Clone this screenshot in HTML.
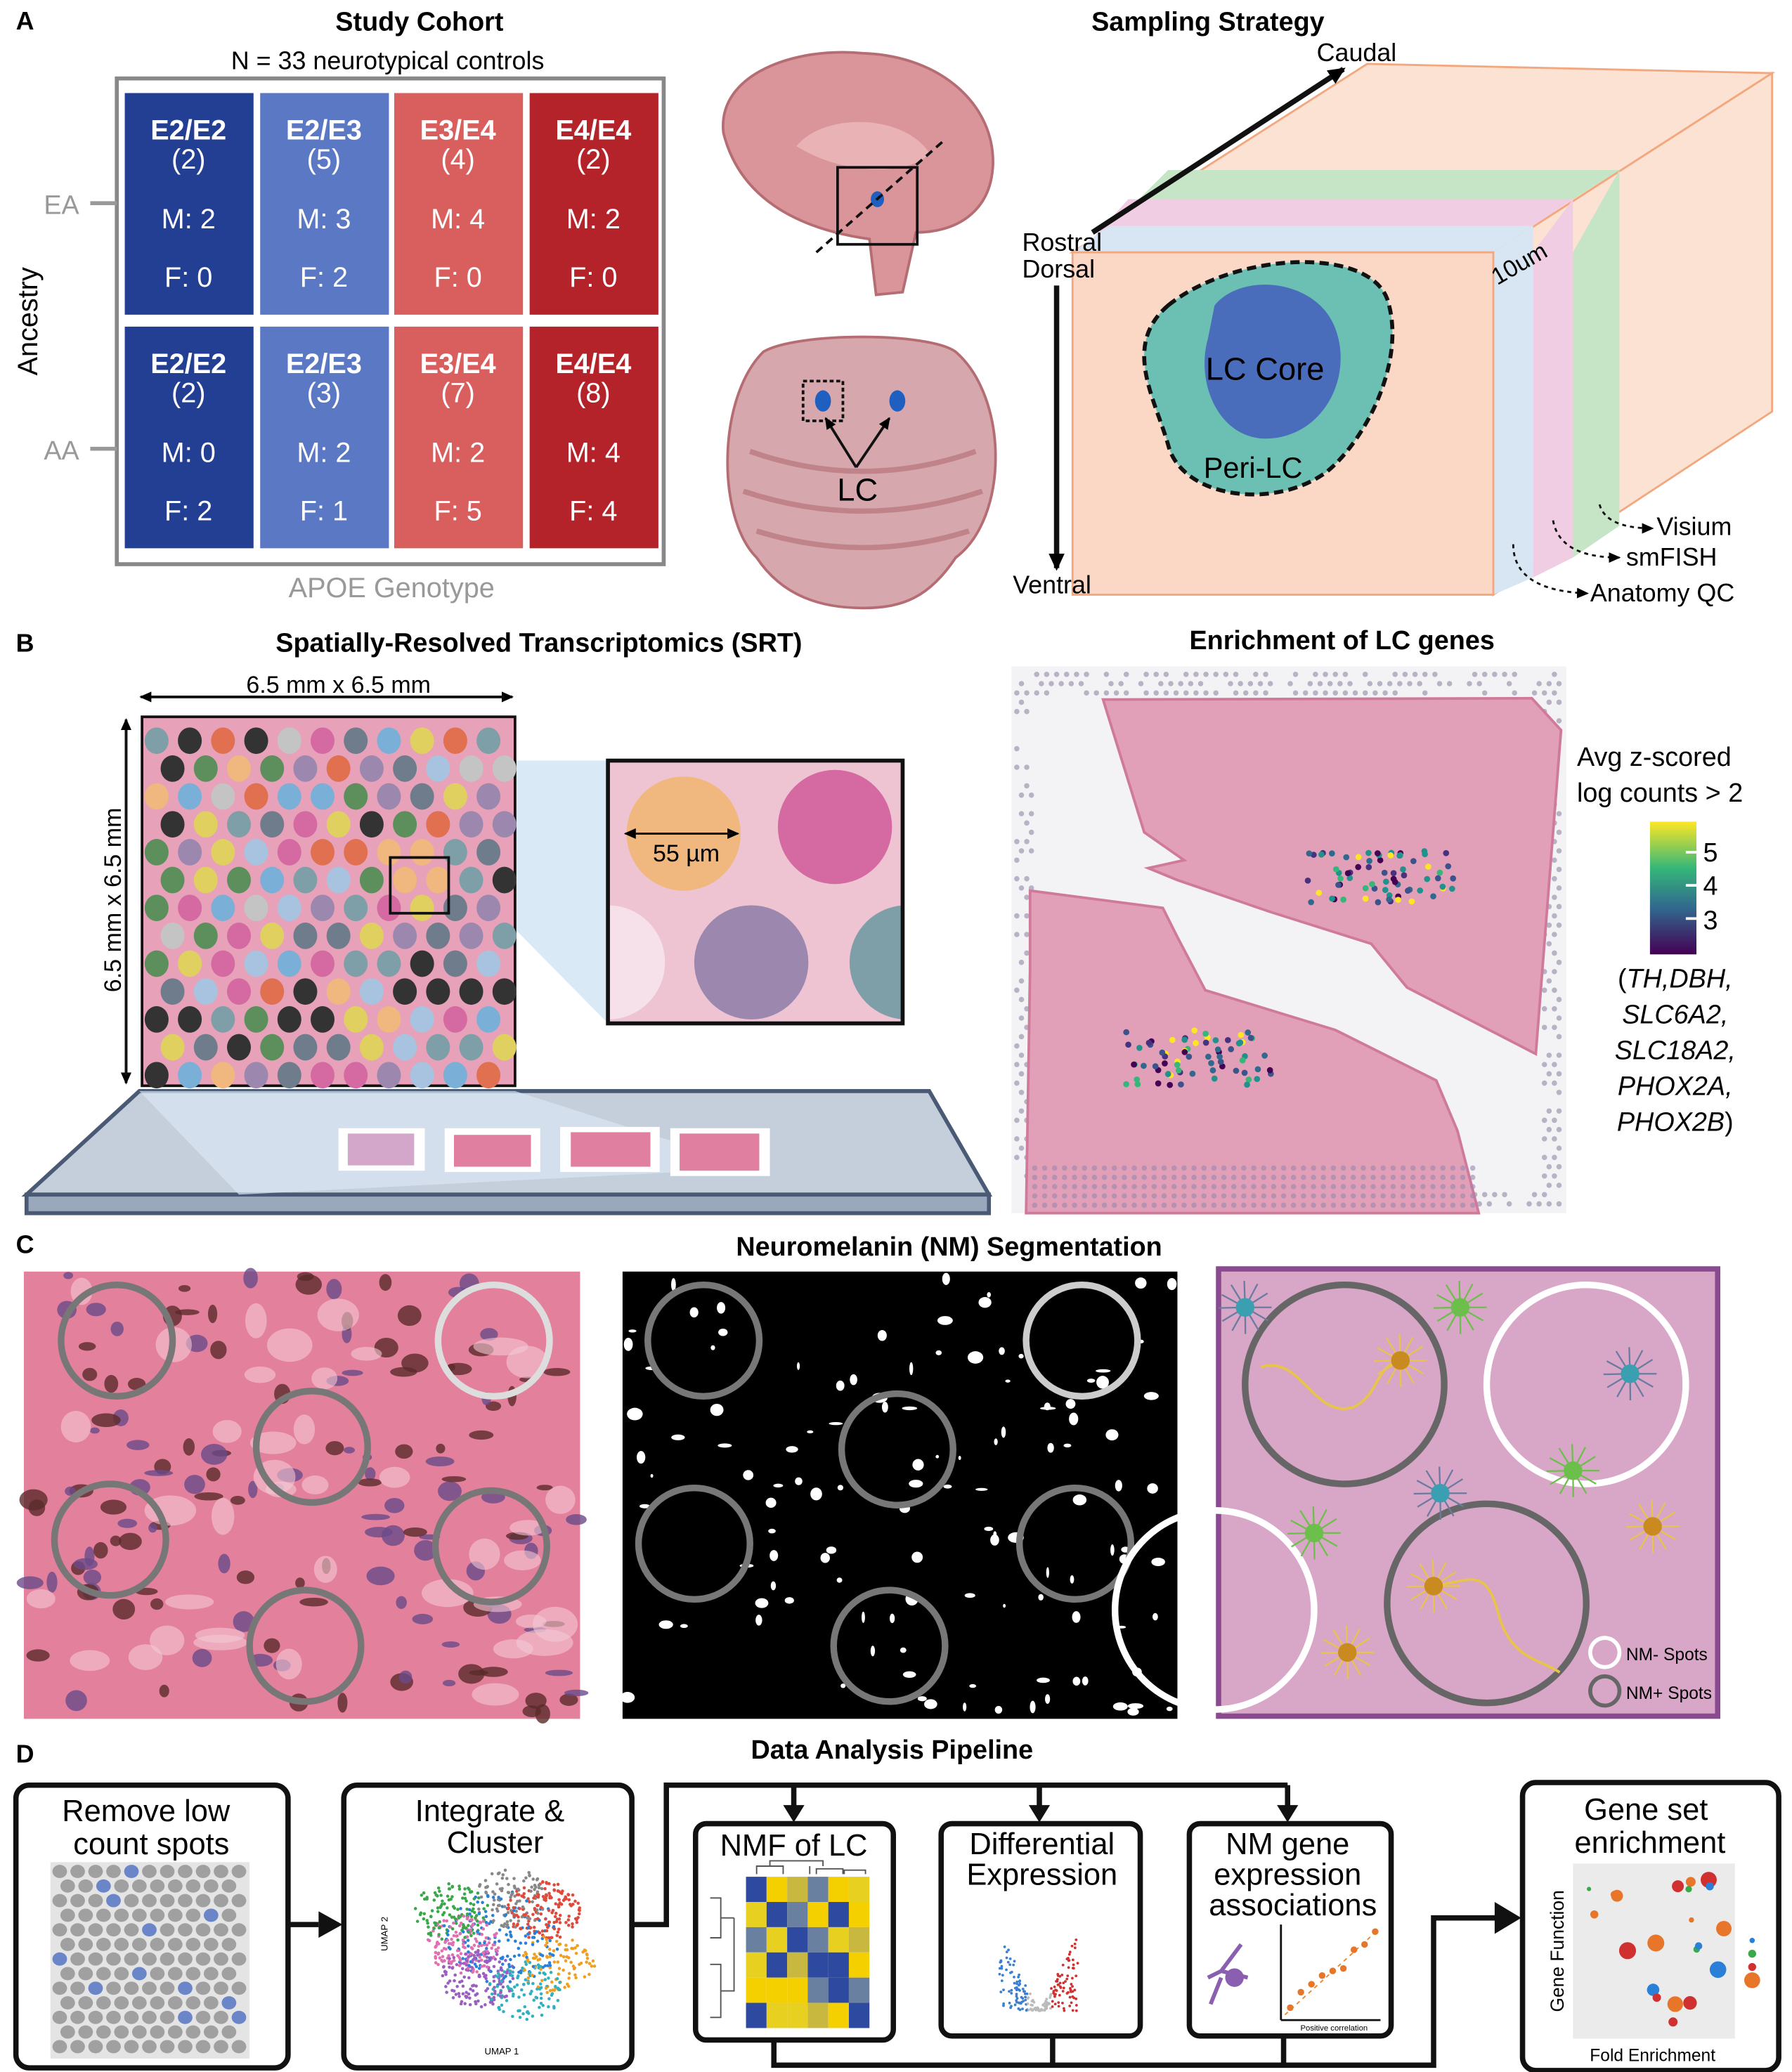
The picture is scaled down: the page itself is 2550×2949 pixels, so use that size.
<!DOCTYPE html>
<html><head><meta charset="utf-8"><style>
html,body{margin:0;padding:0;background:#fff;}
svg{display:block;font-family:"Liberation Sans",Arial,sans-serif;}
</style></head><body>
<svg id="s" width="2550" height="2949" viewBox="0 0 1350 1561" xmlns="http://www.w3.org/2000/svg">
<defs>
<marker id="ah" markerUnits="userSpaceOnUse" markerWidth="14" markerHeight="14" refX="11" refY="7" orient="auto"><path d="M0,1 L13,7 L0,13 z" fill="#000"/></marker>
<marker id="as" markerUnits="userSpaceOnUse" markerWidth="10" markerHeight="10" refX="8" refY="5" orient="auto"><path d="M0,1 L9,5 L0,9 z" fill="#000"/></marker>
</defs>
<!-- Panel A -->
<text x="12" y="22" font-size="19" font-weight="bold">A</text>
<text x="316" y="23" font-size="20" font-weight="bold" text-anchor="middle">Study Cohort</text>
<text x="292" y="52" font-size="19" text-anchor="middle">N = 33 neurotypical controls</text>
<rect x="88" y="59" width="412" height="366" fill="none" stroke="#888" stroke-width="3"/>
<g id="cells"></g>
<text x="295" y="450" font-size="21" fill="#999" text-anchor="middle">APOE Genotype</text>
<text x="28" y="242" font-size="21" transform="rotate(-90 28 242)" text-anchor="middle">Ancestry</text>
<text x="33" y="161" font-size="20" fill="#999">EA</text><line x1="68" y1="153" x2="88" y2="153" stroke="#999" stroke-width="3"/>
<text x="33" y="346" font-size="20" fill="#999">AA</text><line x1="68" y1="338" x2="88" y2="338" stroke="#999" stroke-width="3"/>
<path d="M545,100 C540,55 600,35 650,40 C710,42 750,80 748,125 C746,160 720,175 690,175 L680,220 L660,222 L655,180 C620,175 560,160 545,100 Z" fill="#d9959a" stroke="#b56d73" stroke-width="2"/>
<path d="M600,110 C620,85 680,85 700,115 C690,130 640,135 600,110Z" fill="#e9b3b5"/>
<rect x="631" y="126" width="60" height="58" fill="none" stroke="#111" stroke-width="2"/>
<ellipse cx="661" cy="150" rx="5" ry="6" fill="#1f5fbf"/>
<line x1="615" y1="190" x2="712" y2="105" stroke="#111" stroke-width="2" stroke-dasharray="6,4"/>
<path d="M575,265 C600,250 700,250 720,265 C760,300 760,390 720,420 C700,450 680,458 650,458 C620,458 590,450 570,420 C540,390 540,300 575,265Z" fill="#d6a8ad" stroke="#b56d73" stroke-width="2"/>
<g stroke="#c0838a" stroke-width="4" fill="none"><path d="M565,340 Q650,370 735,340"/><path d="M560,370 Q650,400 740,370"/><path d="M570,400 Q650,425 730,400"/></g>
<rect x="605" y="287" width="30" height="30" fill="none" stroke="#111" stroke-width="2" stroke-dasharray="3,2"/>
<ellipse cx="620" cy="302" rx="6" ry="8" fill="#1f5fbf"/><ellipse cx="676" cy="302" rx="6" ry="8" fill="#1f5fbf"/>
<line x1="645" y1="352" x2="622" y2="315" stroke="#111" stroke-width="2" marker-end="url(#as)"/>
<line x1="645" y1="352" x2="670" y2="315" stroke="#111" stroke-width="2" marker-end="url(#as)"/>
<text x="646" y="377" font-size="24" text-anchor="middle">LC</text>
<text x="910" y="23" font-size="20" font-weight="bold" text-anchor="middle">Sampling Strategy</text>
<polygon points="808,190 1030,48 1335,55 1125,190" fill="#fbe2d3" stroke="#f2a77f" stroke-width="1.5"/>
<polygon points="1125,190 1335,55 1335,310 1125,448" fill="#fbe2d3" stroke="#f2a77f" stroke-width="1.5"/>
<polygon points="1185,190 1220,128 1220,396 1185,420" fill="#c6e4c6"/>
<polygon points="1155,190 1185,150 1185,420 1155,435" fill="#f1cde3"/>
<polygon points="1125,190 1155,170 1155,435 1125,448" fill="#d7e6f2"/>
<polygon points="836,172 1185,150 1220,128 880,128" fill="#c6e4c6"/>
<polygon points="822,181 1155,170 1185,150 850,150" fill="#f1cde3"/>
<polygon points="808,190 1125,190 1155,170 836,170" fill="#d7e6f2"/>
<rect x="808" y="190" width="317" height="258" fill="#fad8c5" stroke="#f2a77f" stroke-width="1.5"/>
<path d="M880,230 C930,190 1030,185 1045,225 C1060,270 1030,330 1000,355 C960,385 890,375 880,335 C870,300 845,260 880,230Z" fill="#6cbfb3" stroke="#111" stroke-width="3" stroke-dasharray="7,4"/>
<path d="M915,230 C935,205 990,210 1005,245 C1020,280 1000,325 960,330 C920,335 900,290 910,255Z" fill="#4a6dbb"/>
<text x="953" y="286" font-size="24" text-anchor="middle">LC Core</text>
<text x="944" y="360" font-size="22" text-anchor="middle">Peri-LC</text>
<line x1="823" y1="175" x2="1012" y2="52" stroke="#111" stroke-width="4" marker-end="url(#ah)"/>
<text x="1022" y="46" font-size="19" text-anchor="middle">Caudal</text>
<text x="770" y="189" font-size="19">Rostral</text><text x="770" y="209" font-size="19">Dorsal</text>
<line x1="796" y1="215" x2="796" y2="428" stroke="#111" stroke-width="4" marker-end="url(#ah)"/>
<text x="763" y="447" font-size="19">Ventral</text>
<text x="1128" y="215" font-size="18" transform="rotate(-30 1128 215)">10um</text>
<g fill="none" stroke="#111" stroke-width="1.5" stroke-dasharray="3,3"><path d="M1205,380 Q1210,398 1245,398" marker-end="url(#as)"/><path d="M1170,392 Q1175,420 1220,420" marker-end="url(#as)"/><path d="M1140,410 Q1140,445 1196,447" marker-end="url(#as)"/></g>
<text x="1248" y="403" font-size="19">Visium</text><text x="1225" y="426" font-size="19">smFISH</text><text x="1198" y="453" font-size="19">Anatomy QC</text>
<!-- Panel B -->
<text x="12" y="491" font-size="19" font-weight="bold">B</text>
<text x="406" y="491" font-size="20" font-weight="bold" text-anchor="middle">Spatially-Resolved Transcriptomics (SRT)</text>
<text x="1011" y="489" font-size="20" font-weight="bold" text-anchor="middle">Enrichment of LC genes</text>
<polygon points="20,900 105,822 700,822 745,900" fill="#c5cfdc" stroke="#4a5a75" stroke-width="3"/>
<rect x="20" y="900" width="725" height="14" fill="#9aa8bc" stroke="#4a5a75" stroke-width="3"/>
<polygon points="105,822 388,822 570,880 180,900" fill="#d9e6f3" opacity="0.7"/>
<polygon points="388,573 458,573 458,771 388,700" fill="#cfe3f4" opacity="0.8"/>
<g><rect x="255" y="850" width="65" height="32" fill="#fff"/><rect x="262" y="854" width="50" height="24" fill="#d3a7c9"/>
<rect x="335" y="850" width="72" height="33" fill="#fff"/><rect x="342" y="855" width="58" height="24" fill="#e07fa0"/>
<rect x="422" y="849" width="75" height="34" fill="#fff"/><rect x="430" y="853" width="60" height="26" fill="#e07fa0"/>
<rect x="505" y="850" width="75" height="36" fill="#fff"/><rect x="512" y="854" width="60" height="28" fill="#e07fa0"/></g>
<rect x="107" y="540" width="281" height="278" fill="#e7a2b9" stroke="#111" stroke-width="2"/>
<g id="spots"></g>
<rect x="294" y="646" width="44" height="42" fill="none" stroke="#111" stroke-width="2"/>
<line x1="112" y1="525" x2="386" y2="525" stroke="#111" stroke-width="2" marker-end="url(#as)"/>
<line x1="380" y1="525" x2="106" y2="525" stroke="#111" stroke-width="2" marker-end="url(#as)"/>
<text x="255" y="522" font-size="18" text-anchor="middle">6.5 mm x 6.5 mm</text>
<line x1="95" y1="550" x2="95" y2="816" stroke="#111" stroke-width="2" marker-end="url(#as)"/>
<line x1="95" y1="810" x2="95" y2="542" stroke="#111" stroke-width="2" marker-end="url(#as)"/>
<text x="91" y="678" font-size="18" text-anchor="middle" transform="rotate(-90 91 678)">6.5 mm x 6.5 mm</text>
<svg x="458" y="573" width="222" height="198"><rect width="222" height="198" fill="#eec4d3"/>
<circle cx="57" cy="55" r="43" fill="#f0b77f"/><circle cx="171" cy="50" r="43" fill="#d56aa3"/><circle cx="108" cy="152" r="43" fill="#9c87ae"/><circle cx="0" cy="152" r="43" fill="#f6e1ea"/><circle cx="225" cy="152" r="43" fill="#7f9fa8"/></svg>
<rect x="458" y="573" width="222" height="198" fill="none" stroke="#111" stroke-width="3"/>
<line x1="476" y1="628" x2="556" y2="628" stroke="#111" stroke-width="1.5" marker-end="url(#as)"/>
<line x1="552" y1="628" x2="471" y2="628" stroke="#111" stroke-width="1.5" marker-end="url(#as)"/>
<text x="517" y="649" font-size="18" text-anchor="middle">55 µm</text>
<rect x="762" y="502" width="418" height="412" fill="#f3f3f5"/>
<g id="gdots"></g>
<path d="M831,527 L1154,526 L1176,550 L1157,794 L1060,744 L1033,711 L957,687 L887,663 L865,654 L892,648 L862,627 Z" fill="#e29fb8" stroke="#cf7a9a" stroke-width="2"/>
<path d="M776,671 L876,684 L887,706 L908,746 L1006,776 L1082,814 L1098,852 L1114,914 L773,914 L776,730 Z" fill="#e29fb8" stroke="#cf7a9a" stroke-width="2"/>
<g id="gdots2" opacity="0.6"></g>
<g id="hot"></g>
<text x="1188" y="577" font-size="20">Avg z-scored</text><text x="1188" y="604" font-size="20">log counts &gt; 2</text>
<defs><linearGradient id="vir" x1="0" y1="1" x2="0" y2="0"><stop offset="0" stop-color="#440154"/><stop offset="0.35" stop-color="#31688e"/><stop offset="0.65" stop-color="#35b779"/><stop offset="1" stop-color="#fde725"/></linearGradient></defs>
<rect x="1243" y="619" width="35" height="100" fill="url(#vir)"/>
<g stroke="#fff" stroke-width="2"><line x1="1270" y1="642" x2="1278" y2="642"/><line x1="1270" y1="667" x2="1278" y2="667"/><line x1="1270" y1="692" x2="1278" y2="692"/></g>
<text x="1283" y="649" font-size="20">5</text><text x="1283" y="674" font-size="20">4</text><text x="1283" y="700" font-size="20">3</text>
<g font-size="20" font-style="italic" text-anchor="middle"><text x="1262" y="744"><tspan font-style="normal">(</tspan>TH,DBH,</text><text x="1262" y="771">SLC6A2,</text><text x="1262" y="798">SLC18A2,</text><text x="1262" y="825">PHOX2A,</text><text x="1262" y="852">PHOX2B<tspan font-style="normal">)</tspan></text></g>
<!-- Panel C -->
<text x="12" y="944" font-size="19" font-weight="bold">C</text>
<text x="715" y="946" font-size="20" font-weight="bold" text-anchor="middle">Neuromelanin (NM) Segmentation</text>
<rect x="18" y="958" width="419" height="337" fill="#e3809c"/>
<g id="he"></g>
<rect x="469" y="958" width="418" height="337" fill="#000"/>
<g id="bw"></g>
<rect x="918" y="956" width="376" height="337" fill="#d8a6c6" stroke="#8a4a8f" stroke-width="4"/>
<g id="circs"></g>
<g fill="none" stroke="#e8c44a" stroke-width="2"><path d="M950,1030 C980,1020 990,1070 1020,1060 C1040,1050 1035,1030 1055,1025"/><path d="M1080,1195 C1110,1190 1120,1180 1130,1220 C1140,1250 1160,1250 1175,1260"/></g>
<g id="cells2"></g>
<circle cx="1209" cy="1245" r="11" fill="none" stroke="#fff" stroke-width="3"/><text x="1225" y="1251" font-size="13">NM- Spots</text>
<circle cx="1209" cy="1274" r="11" fill="none" stroke="#666" stroke-width="3"/><text x="1225" y="1280" font-size="13">NM+ Spots</text>
<!-- Panel D -->
<text x="12" y="1328" font-size="19" font-weight="bold">D</text>
<text x="672" y="1325" font-size="20" font-weight="bold" text-anchor="middle">Data Analysis Pipeline</text>
<g fill="none" stroke="#111" stroke-width="4">
<rect x="12" y="1345" width="205" height="213" rx="10"/>
<rect x="259" y="1345" width="217" height="213" rx="10"/>
<rect x="524" y="1374" width="149" height="163" rx="8"/>
<rect x="709" y="1374" width="150" height="160" rx="8"/>
<rect x="896" y="1374" width="152" height="160" rx="8"/>
<rect x="1147" y="1343" width="193" height="217" rx="10"/>
<polyline points="476,1450 502,1450 502,1345 970,1345"/>
<line x1="598" y1="1345" x2="598" y2="1362"/><line x1="783" y1="1345" x2="783" y2="1362"/><line x1="970" y1="1345" x2="970" y2="1362"/>
<polyline points="583,1537 583,1556 1080,1556 1080,1445 1128,1445"/>
<line x1="793" y1="1534" x2="793" y2="1556"/><line x1="967" y1="1534" x2="967" y2="1556"/>
<line x1="217" y1="1450" x2="240" y2="1450"/>
</g>
<g fill="#111"><polygon points="240,1440 258,1450 240,1460"/><polygon points="590,1360 606,1360 598,1373"/><polygon points="775,1360 791,1360 783,1373"/><polygon points="962,1360 978,1360 970,1373"/><polygon points="1126,1433 1146,1445 1126,1457"/></g>
<g font-size="23" text-anchor="middle"><text x="110" y="1372">Remove low</text><text x="114" y="1397">count spots</text>
<text x="369" y="1372">Integrate &amp;</text><text x="373" y="1396">Cluster</text>
<text x="598" y="1398">NMF of LC</text>
<text x="785" y="1397">Differential</text><text x="785" y="1420">Expression</text>
<text x="970" y="1397">NM gene</text><text x="970" y="1420">expression</text><text x="974" y="1443">associations</text>
<text x="1240" y="1371">Gene set</text><text x="1243" y="1396">enrichment</text></g>
<rect x="38" y="1403" width="150" height="148" fill="#e4e4e4"/>
<g id="gspots"></g>
<g id="umap"></g>
<g font-size="7"><text x="365" y="1548">UMAP 1</text><text x="292" y="1470" transform="rotate(-90 292 1470)">UMAP 2</text></g>
<g stroke="#555" fill="none" stroke-width="1"><path d="M535,1430 h8 v30 h-8 M543,1445 h10 M535,1480 h8 v40 h-8 M543,1500 h10 M553,1445 v55 h-6"/><path d="M570,1412 v-6 h20 v6 M580,1406 v-4 h40 v4 M610,1406 v6 M615,1412 v-4 h20 v4 M636,1412 v-3 h16 v3"/></g>
<g id="heat"></g>
<g id="volc"></g>
<path d="M910,1490 l10,-5 l15,-20 M920,1485 l20,5 M920,1490 l-8,20" stroke="#8a5fb0" stroke-width="3" fill="none"/><circle cx="930" cy="1490" r="7" fill="#8a5fb0"/>
<g stroke="#111" stroke-width="1.5"><line x1="965" y1="1450" x2="965" y2="1522"/><line x1="965" y1="1522" x2="1040" y2="1522"/></g>
<line x1="968" y1="1518" x2="1036" y2="1456" stroke="#e88a2e" stroke-dasharray="3,3"/>
<g fill="#e8762a" id="corr"></g>
<text x="1005" y="1530" font-size="6" text-anchor="middle">Positive correlation</text>
<rect x="1185" y="1404" width="122" height="132" fill="#ebebeb"/>
<g id="gse"></g>
<text x="1178" y="1470" font-size="14" transform="rotate(-90 1178 1470)" text-anchor="middle">Gene Function</text>
<text x="1245" y="1553" font-size="13" text-anchor="middle">Fold Enrichment</text>
</svg>
<script>
var NS="http://www.w3.org/2000/svg";
function el(p,t,a){var e=document.createElementNS(NS,t);for(var k in a)e.setAttribute(k,a[k]);document.getElementById(p).appendChild(e);return e;}
var r=0;function rnd(){r=(r*9301+49297)%233280;return r/233280;}
var cx=[94,196,297,399],cols=["#233f94","#5b78c4","#d95f5f","#b5232a"],g=["E2/E2","E2/E3","E3/E4","E4/E4"];
var data=[[2,5,4,2],[2,3,7,8]],M=[[2,3,4,2],[0,2,2,4]],F=[[0,2,0,0],[2,1,5,4]],ry=[70,246];
for(var i=0;i<2;i++)for(var j=0;j<4;j++){var x=cx[j],y=ry[i];el("cells","rect",{x:x,y:y,width:97,height:167,fill:cols[j]});
var t=el("cells","text",{x:x+48,y:y+35,"font-size":21,"font-weight":"bold",fill:"#fff","text-anchor":"middle"});t.textContent=g[j];
t=el("cells","text",{x:x+48,y:y+57,"font-size":21,fill:"#fff","text-anchor":"middle"});t.textContent="("+data[i][j]+")";
t=el("cells","text",{x:x+48,y:y+102,"font-size":21,fill:"#fff","text-anchor":"middle"});t.textContent="M: "+M[i][j];
t=el("cells","text",{x:x+48,y:y+146,"font-size":21,fill:"#fff","text-anchor":"middle"});t.textContent="F: "+F[i][j];}
var pal=["#d56aa3","#9c87ae","#7f9fa8","#f0b77f","#6e7c8c","#a8c3e0","#e07050","#5c8f5c","#333","#c4c4c4","#7ab0d8","#e0d060"];
for(var a=0;a<13;a++)for(var b=0;b<11;b++){var x=118+b*25+(a%2?12:0),y=558+a*21;if(x>380)continue;el("spots","ellipse",{cx:x,cy:y,rx:9,ry:10,fill:pal[Math.floor(rnd()*pal.length)]});}
for(var y=508;y<912;y+=7)for(var x=766;x<1178;x+=7.5){var xx=x+((y-508)/7%2?3.5:0);var edge=(xx<780||xx>1160||y<525||y>895);if(edge&&rnd()<0.7)el("gdots","circle",{cx:xx,cy:y,r:2,fill:"#b8b2c4"});}
for(var y=880;y<912;y+=7)for(var x=776;x<1110;x+=7.5){el("gdots2","circle",{cx:x+((y/7)%2?3.5:0),cy:y,r:2,fill:"#9a88ae"});}
var hc=["#440154","#31688e","#35b779","#fde725","#3b528b","#21918c","#46327e"];
for(var k=0;k<70;k++){el("hot","circle",{cx:1040+(rnd()-0.5)*110,cy:660+(rnd()-0.5)*40,r:2.3,fill:hc[Math.floor(rnd()*7)]});el("hot","circle",{cx:903+(rnd()-0.5)*110,cy:797+(rnd()-0.5)*42,r:2.3,fill:hc[Math.floor(rnd()*7)]});}
for(var k=0;k<140;k++){el("he","ellipse",{cx:20+rnd()*415,cy:960+rnd()*333,rx:3+rnd()*8,ry:2+rnd()*6,fill:rnd()<0.5?"#5b2a2a":"#6a4a8a",opacity:0.8});}
for(var k=0;k<40;k++){el("he","ellipse",{cx:30+rnd()*395,cy:970+rnd()*315,rx:8+rnd()*14,ry:5+rnd()*9,fill:"#f3c8d3",opacity:0.6});}
var hcirc=[[88,1010,"#777"],[372,1010,"#ddd"],[235,1090,"#777"],[83,1160,"#777"],[370,1165,"#777"],[230,1240,"#777"]];
hcirc.forEach(function(c){el("he","circle",{cx:c[0],cy:c[1],r:42,fill:"none",stroke:c[2],"stroke-width":5});});
for(var k=0;k<120;k++){el("bw","ellipse",{cx:472+rnd()*412,cy:962+rnd()*330,rx:1+rnd()*5,ry:1+rnd()*4,fill:"#fff"});}
var bc=[[530,1010,"#777"],[815,1010,"#ccc"],[676,1092,"#777"],[523,1163,"#777"],[810,1163,"#777"],[670,1240,"#777"]];
bc.forEach(function(c){el("bw","circle",{cx:c[0],cy:c[1],r:42,fill:"none",stroke:c[2],"stroke-width":5});});
[[1013,1043,"#666"],[1195,1043,"#fff"],[915,1213,"#fff"],[1120,1208,"#666"]].forEach(function(c){el("circs","circle",{cx:c[0],cy:c[1],r:75,fill:"none",stroke:c[2],"stroke-width":5});});
[[1055,1025,"#e8c44a"],[1080,1195,"#e8c44a"],[1245,1150,"#e8c44a"],[1015,1245,"#e8c44a"],[1100,985,"#6cbf4a"],[1185,1108,"#6cbf4a"],[990,1155,"#6cbf4a"],[938,985,"#3a9fb0"],[1228,1035,"#3a9fb0"],[1085,1125,"#3a9fb0"]].forEach(function(c){for(var q=0;q<12;q++){var an=q*0.52;el("cells2","line",{x1:c[0],y1:c[1],x2:c[0]+Math.cos(an)*20,y2:c[1]+Math.sin(an)*20,stroke:c[2]=="#3a9fb0"?"#6a7aa0":c[2],"stroke-width":1.2});}el("cells2","circle",{cx:c[0],cy:c[1],r:7,fill:c[2]=="#e8c44a"?"#c98a20":c[2]});});
for(var a=0;a<13;a++)for(var b=0;b<11;b++){var x=45+b*13.5+(a%2?6:0),y=1410+a*11;if(x>185)continue;el("gspots","ellipse",{cx:x,cy:y,rx:5.5,ry:5,fill:rnd()<0.07?"#6a86c8":"#a0a0a0"});}
var uc=["#2a7fd8","#e04a3a","#3aa84a","#f0a020","#9a5fc0","#30b0c0","#e070b0","#888"];
var ucen=[[378,1460],[410,1440],[340,1440],[420,1480],[360,1490],[395,1500],[350,1465],[385,1430]];
for(var k=0;k<1000;k++){var ci=Math.floor(rnd()*8),an=rnd()*6.28,rr=Math.sqrt(rnd())*(ci==0?45:28);el("umap","circle",{cx:ucen[ci][0]+Math.cos(an)*rr,cy:ucen[ci][1]+Math.sin(an)*rr*0.8,r:1.2,fill:uc[ci]});}
var hcol=["#f5d000","#2d4aa0","#c8b840","#6a80a0","#e8d020"];
for(var a=0;a<6;a++)for(var b=0;b<6;b++)el("heat","rect",{x:562+b*15.5,y:1414+a*19,width:15.5,height:19,fill:(a==b?"#2d4aa0":hcol[Math.floor(rnd()*5)])});
for(var k=0;k<200;k++){var x=(rnd()-0.5)*2,y=Math.abs(x)*(rnd()*60);var c=Math.abs(x)<0.3?"#bbb":(x<0?"#3a7fd0":"#d03030");el("volc","circle",{cx:783+x*30,cy:1515-y,r:1,fill:c});}
for(var k=0;k<9;k++)el("corr","circle",{cx:972+k*8,cy:1512-k*6.5+(rnd()-0.5)*10,r:2.5});
var gc=["#e8762a","#d03030","#3aa84a","#2a7fd8"];
for(var k=0;k<22;k++)el("gse","circle",{cx:1195+rnd()*105,cy:1412+rnd()*115,r:1.5+rnd()*5,fill:gc[Math.floor(rnd()*4)]});
[[1320,1462,2],[1320,1472,3],[1320,1482,3],[1320,1492,6]].forEach(function(c,i){el("gse","circle",{cx:c[0],cy:c[1],r:c[2],fill:gc[[3,2,1,0][i]]});});
</script>
</body></html>
